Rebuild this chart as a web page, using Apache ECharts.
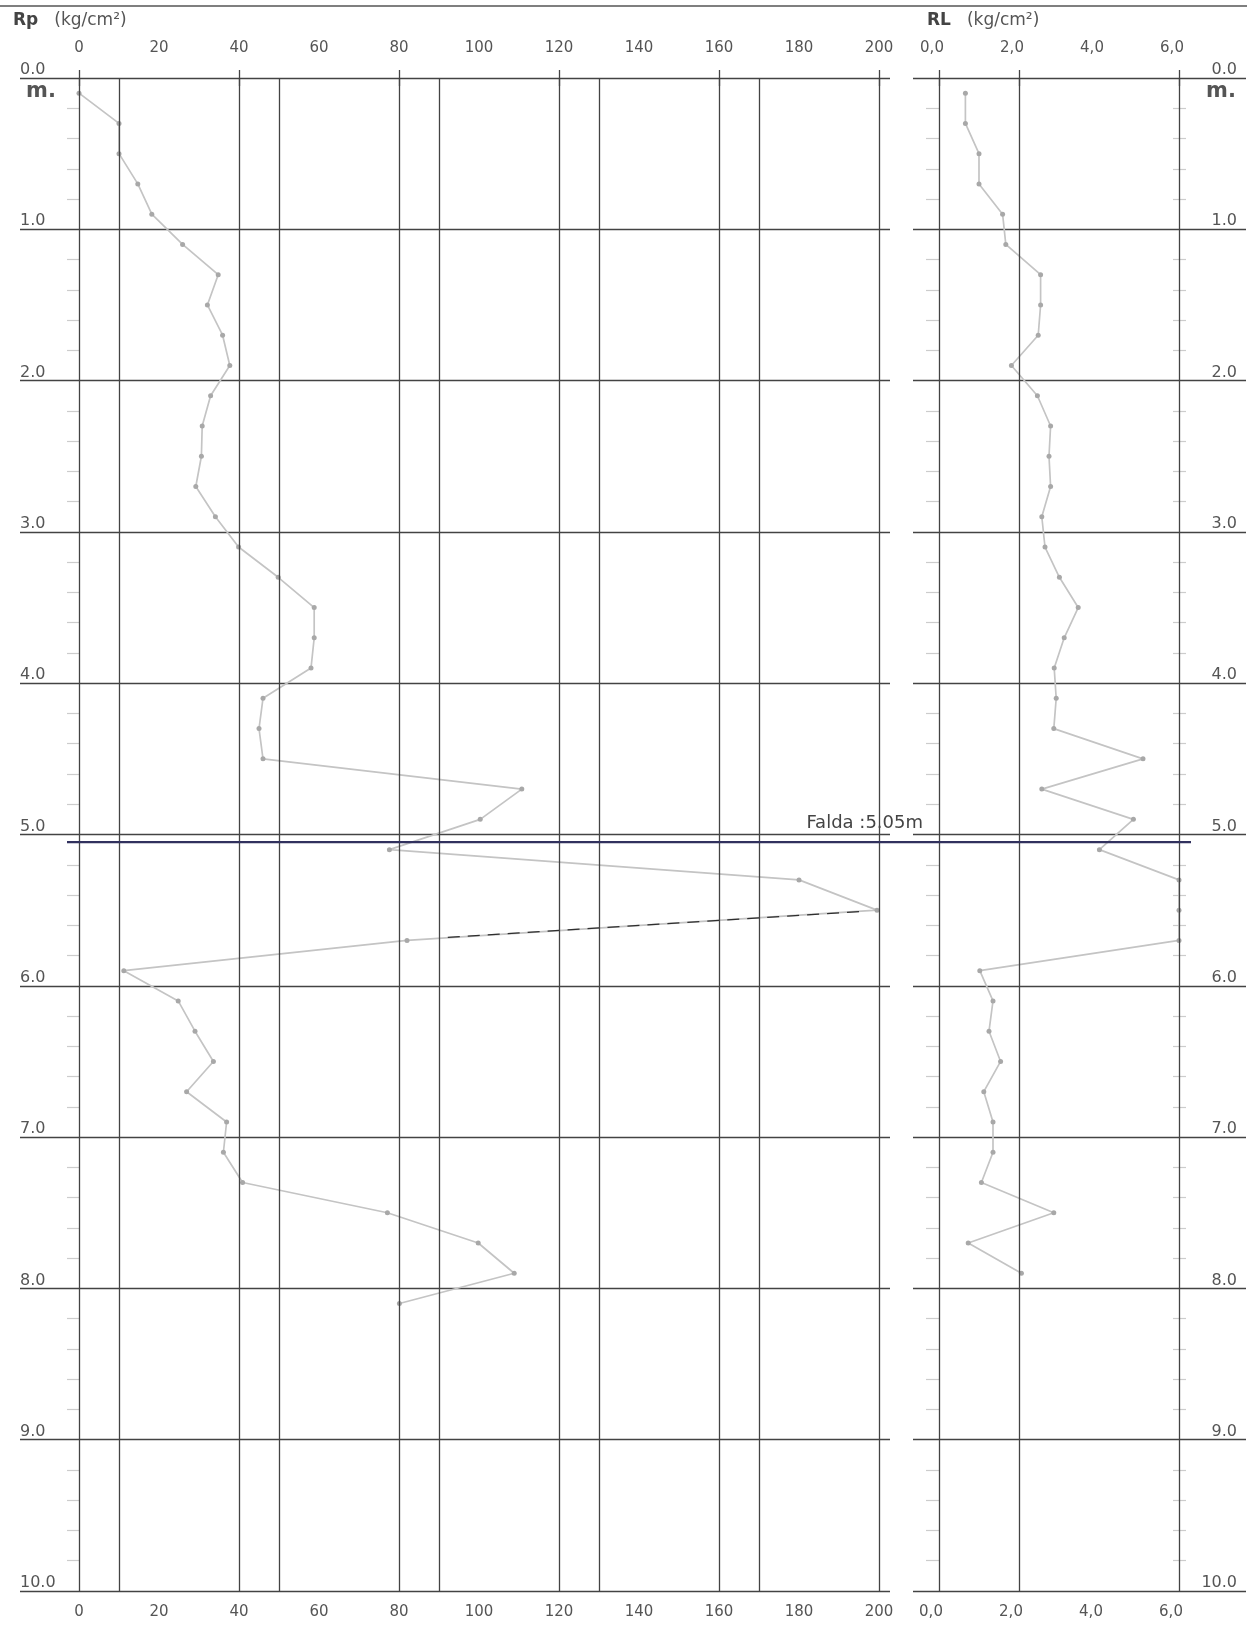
<!DOCTYPE html>
<html>
<head>
<meta charset="utf-8">
<title>Penetrometro</title>
<script src="https://cdn.jsdelivr.net/npm/echarts@6/dist/echarts.min.js"></script>
<style>
  html, body { margin: 0; padding: 0; background: #ffffff; }
  #chart { width: 1256px; height: 1630px; }
</style>
</head>
<body>
<div id="chart"></div>
<script>
// Sounding depths (m) at which readings were taken
const depthsM = [0.1, 0.3, 0.5, 0.7, 0.9, 1.1, 1.3, 1.5, 1.7, 1.9,
                 2.1, 2.3, 2.5, 2.7, 2.9, 3.1, 3.3, 3.5, 3.7, 3.9,
                 4.1, 4.3, 4.5, 4.7, 4.9, 5.1, 5.3, 5.5, 5.7, 5.9,
                 6.1, 6.3, 6.5, 6.7, 6.9, 7.1, 7.3, 7.5, 7.7, 7.9, 8.1];

// Tip resistance Rp (kg/cm²)
const rpValues = [0, 10, 10, 14.7, 18.2, 25.9, 34.8, 32.1, 35.9, 37.7,
                  32.9, 30.8, 30.6, 29.2, 34.1, 39.9, 49.8, 58.8, 58.8, 58,
                  46, 45, 46, 110.7, 100.3, 77.6, 180, 199.5, 82, 11.2,
                  24.8, 29, 33.6, 26.9, 36.9, 36.1, 40.9, 77.1, 99.8, 108.8, 80.1];

// Lateral friction RL (kg/cm²)
const rlValues = [0.66, 0.66, 1.0, 1.0, 1.59, 1.67, 2.54, 2.54, 2.48, 1.81,
                  2.46, 2.79, 2.75, 2.79, 2.57, 2.65, 3.01, 3.48, 3.13, 2.88,
                  2.93, 2.87, 5.10, 2.57, 4.86, 4.01, 6.0, 6.0, 6.0, 1.02,
                  1.35, 1.25, 1.54, 1.12, 1.35, 1.35, 1.06, 2.87, 0.73, 2.06];

// Dashed trace drawn over the Rp segment between 5.5 m and 5.7 m
const rpDashedTrace = [[195, 5.51], [92, 5.68]];

// Axis ticks / labels / vertical rules
const rpLabelValues = [0, 20, 40, 60, 80, 100, 120, 140, 160, 180, 200];
const rpTickValues = [0, 40, 80, 120, 160, 200];
const rpGridValues = [0, 10, 40, 50, 80, 90, 120, 130, 160, 170, 200];
const rlLabelValues = [0, 2, 4, 6];
const rlTickValues = [0, 2, 6];
const rlGridValues = [0, 2, 6];

// Water table
const waterTableDepth = 5.05;
const waterTableLabel = 'Falda :5.05m';

const FONT = '"DejaVu Sans", "Liberation Sans", Arial, sans-serif';
const TXT = '#555555';
const GRID = '#434343';
const TRACE = '#c4c4c4';
const MARK = '#a8a8a8';

const chart = echarts.init(document.getElementById('chart'), null, { renderer: 'canvas' });

const rpData = rpValues.map((v, i) => [v, depthsM[i]]);
const rlData = rlValues.map((v, i) => [v, depthsM[i]]);

const depthAxisBase = {
  type: 'value', inverse: true, min: 0, max: 10, interval: 1,
  axisLine: { show: false }, axisTick: { show: false }
};

function topBottomX(gridIndex, position, min, max, labels, ticks, fmt, margin, shift) {
  return {
    type: 'value', gridIndex, position, min, max,
    axisLine: { show: false },
    splitLine: { show: false },
    axisTick: { show: true, customValues: ticks, length: 8, lineStyle: { color: GRID, width: 1.3 } },
    axisLabel: {
      show: true, customValues: labels, margin, formatter: fmt,
      padding: [0, shift, 0, 0],
      fontFamily: FONT, fontSize: 15, color: TXT, hideOverlap: false
    }
  };
}

const rpFmt = v => String(v);
const rlFmt = v => v.toFixed(1).replace('.', ',');

chart.setOption({
  animation: false,
  backgroundColor: '#ffffff',
  grid: [
    { left: 20, top: 78, width: 870, height: 1513 },
    { left: 913, top: 78, width: 333, height: 1513 }
  ],
  xAxis: [
    topBottomX(0, 'top', -14.75, 202.75, rpLabelValues, rpTickValues, rpFmt, 22, 0),
    topBottomX(0, 'bottom', -14.75, 202.75, rpLabelValues, rpTickValues, rpFmt, 14, 0),
    topBottomX(1, 'top', -0.65, 7.675, rlLabelValues, rlTickValues, rlFmt, 22, 14),
    topBottomX(1, 'bottom', -0.65, 7.675, rlLabelValues, rlTickValues, rlFmt, 14, 16)
  ],
  yAxis: [
    Object.assign({}, depthAxisBase, {
      gridIndex: 0, position: 'left',
      splitLine: { show: true, lineStyle: { color: GRID, width: 1.3 } },
      axisLabel: {
        show: true, inside: true, margin: 0, align: 'left', verticalAlign: 'bottom',
        formatter: v => v.toFixed(1), fontFamily: FONT, fontSize: 16, color: TXT
      }
    }),
    Object.assign({}, depthAxisBase, {
      gridIndex: 0, position: 'left', offset: -59,
      splitLine: { show: false }, axisLabel: { show: false },
      minorTick: { show: true, splitNumber: 5, length: 12, lineStyle: { color: '#cccccc', width: 1.2 } }
    }),
    Object.assign({}, depthAxisBase, {
      gridIndex: 1, position: 'right',
      splitLine: { show: true, lineStyle: { color: GRID, width: 1.3 } },
      axisLabel: {
        show: true, inside: true, margin: 9, align: 'right', verticalAlign: 'bottom',
        formatter: v => v.toFixed(1), fontFamily: FONT, fontSize: 16, color: TXT
      }
    }),
    Object.assign({}, depthAxisBase, {
      gridIndex: 1, position: 'left', offset: -26,
      splitLine: { show: false }, axisLabel: { show: false },
      minorTick: { show: true, splitNumber: 5, length: 13, lineStyle: { color: '#cccccc', width: 1.2 } }
    }),
    Object.assign({}, depthAxisBase, {
      gridIndex: 1, position: 'right', offset: -73,
      splitLine: { show: false }, axisLabel: { show: false },
      minorTick: { show: true, splitNumber: 5, length: 13, lineStyle: { color: '#cccccc', width: 1.2 } }
    })
  ],
  series: [
    {
      name: 'Rp', type: 'line', xAxisIndex: 0, yAxisIndex: 0, z: 3,
      data: rpData,
      symbol: 'circle', symbolSize: 5,
      itemStyle: { color: MARK },
      lineStyle: { color: TRACE, width: 1.7 },
      markLine: {
        silent: true, symbol: 'none', label: { show: false },
        lineStyle: { color: GRID, width: 1.3, type: 'solid' },
        emphasis: { disabled: true },
        data: rpGridValues.map(v => ({ xAxis: v }))
      }
    },
    {
      name: 'RL', type: 'line', xAxisIndex: 2, yAxisIndex: 2, z: 3,
      data: rlData,
      symbol: 'circle', symbolSize: 5,
      itemStyle: { color: MARK },
      lineStyle: { color: TRACE, width: 1.7 },
      markLine: {
        silent: true, symbol: 'none', label: { show: false },
        lineStyle: { color: GRID, width: 1.3, type: 'solid' },
        emphasis: { disabled: true },
        data: rlGridValues.map(v => ({ xAxis: v }))
      }
    },
    {
      name: 'Rp tratto', type: 'line', xAxisIndex: 0, yAxisIndex: 0, z: 4,
      data: rpDashedTrace, symbol: 'none',
      lineStyle: { color: '#2f2f2f', width: 1.2, type: [12, 8] }
    }
  ]
});

// Water-table rule across both panels, header titles and frame line
const pA = chart.convertToPixel({ seriesIndex: 0 }, [-3, waterTableDepth]);
const pB = chart.convertToPixel({ seriesIndex: 1 }, [6.3, waterTableDepth]);
const pLbl = chart.convertToPixel({ seriesIndex: 0 }, [211, waterTableDepth]);
const pTop = chart.convertToPixel({ seriesIndex: 0 }, [0, 0]);
const pTopR = chart.convertToPixel({ seriesIndex: 1 }, [0, 0]);

const titleRich = {
  b: { font: 'bold 17px ' + FONT, fill: '#444444', padding: [0, 16, 0, 0] },
  n: { font: '17px ' + FONT, fill: TXT }
};

chart.setOption({
  graphic: [
    { type: 'line', shape: { x1: 0, y1: 6, x2: 1247, y2: 6 },
      style: { stroke: '#555555', lineWidth: 1.5 }, z: 10 },
    { type: 'line', shape: { x1: pA[0], y1: pA[1], x2: pB[0], y2: pB[1] },
      style: { stroke: '#31315e', lineWidth: 2.2 }, z: 10 },
    { type: 'text', x: pLbl[0], y: pLbl[1] - 10, z: 11,
      style: { text: waterTableLabel, fill: '#444444', font: '18px ' + FONT,
               align: 'right', verticalAlign: 'bottom' } },
    { type: 'text', x: 13, y: 12, z: 10,
      style: { text: '{b|Rp}{n|(kg/cm²)}', verticalAlign: 'top', rich: titleRich } },
    { type: 'text', x: 927, y: 12, z: 10,
      style: { text: '{b|RL}{n|(kg/cm²)}', verticalAlign: 'top', rich: titleRich } },
    { type: 'text', x: 26, y: pTop[1] + 3, z: 10,
      style: { text: 'm.', font: 'bold 21px ' + FONT, fill: '#555555', verticalAlign: 'top' } },
    { type: 'text', x: 1206, y: pTopR[1] + 3, z: 10,
      style: { text: 'm.', font: 'bold 21px ' + FONT, fill: '#555555', verticalAlign: 'top' } }
  ]
});
</script>
</body>
</html>
